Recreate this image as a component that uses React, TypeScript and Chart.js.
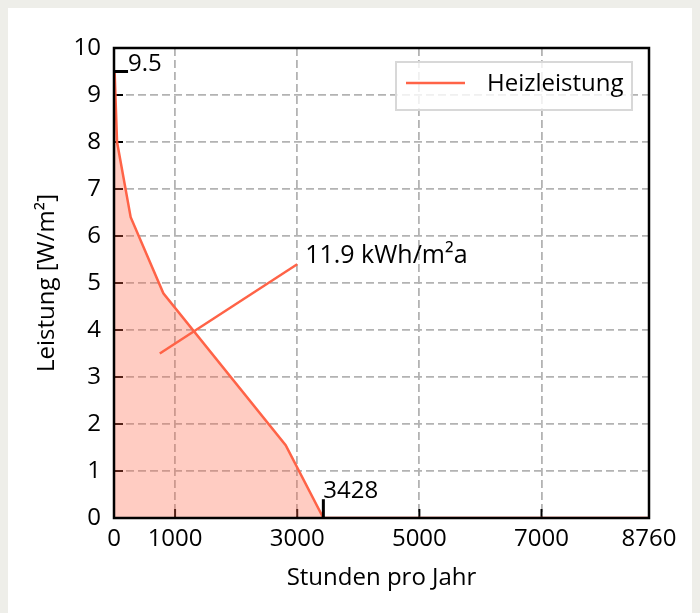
import React, { useEffect, useRef } from "react";
import { Chart, registerables } from "chart.js";

Chart.register(...registerables);

// ---- data ----
const hours = [10, 50, 273, 808, 2811, 3428, 8760];
const power = [9.5, 8.0, 6.4, 4.78, 1.55, 0, 0];
const pointerHours = [750, 3000];
const pointerPower = [3.5, 5.4];
const peakMarkHours = [0, 230];
const peakMarkPower = [9.5, 9.5];
const endMarkHours = [3428, 3428];
const endMarkPower = [0, 0.4];
const xTicks = [0, 1000, 3000, 5000, 7000, 8760];
const yTicks = [0, 1, 2, 3, 4, 5, 6, 7, 8, 9, 10];
const seriesLabel = "Heizleistung";
const labels = [
  { text: "9.5", x: 230, y: 9.66, size: 24 },
  { text: "3428", x: 3428, y: 0.57, size: 24 },
  { text: "11.9 kWh/m²a", x: 3130, y: 5.57, size: 25 },
];

const FONT = "'Open Sans', sans-serif";
const FS = 24;
const LINE = "#ff6347";

const pts = (xs: number[], ys: number[]) => xs.map((x, i) => ({ x, y: ys[i] }));

const framePlugin = {
  id: "frameTicks",
  beforeDatasetsDraw(chart: any) {
    const { ctx, chartArea: a, scales } = chart;
    ctx.save();
    ctx.strokeStyle = "#000";
    ctx.lineWidth = 2;
    ctx.beginPath();
    yTicks.forEach((v) => {
      const y = scales.y.getPixelForValue(v);
      ctx.moveTo(a.left, y);
      ctx.lineTo(a.left + 9, y);
    });
    xTicks.forEach((v) => {
      const x = scales.x.getPixelForValue(v);
      ctx.moveTo(x, a.bottom);
      ctx.lineTo(x, a.bottom - 9);
    });
    ctx.stroke();
    ctx.restore();
  },
  afterDraw(chart: any) {
    const { ctx, chartArea: a, scales } = chart;
    ctx.save();
    ctx.strokeStyle = "#000";
    ctx.lineWidth = 2.5;
    ctx.strokeRect(a.left, a.top, a.right - a.left, a.bottom - a.top);
    // annotation texts
    ctx.fillStyle = "#000";
    ctx.textAlign = "left";
    ctx.textBaseline = "middle";
    labels.forEach((l) => {
      ctx.font = `${l.size}px ${FONT}`;
      ctx.fillText(l.text, scales.x.getPixelForValue(l.x), scales.y.getPixelForValue(l.y));
    });
    // legend
    const bw = 236;
    const bh = 48;
    const bx = a.right - 17 - bw;
    const by = a.top + 14;
    ctx.fillStyle = "rgba(255,255,255,0.8)";
    ctx.fillRect(bx, by, bw, bh);
    ctx.strokeStyle = "#d8d8d8";
    ctx.lineWidth = 2;
    ctx.strokeRect(bx, by, bw, bh);
    ctx.strokeStyle = LINE;
    ctx.lineWidth = 2.5;
    ctx.beginPath();
    ctx.moveTo(bx + 10, by + 21);
    ctx.lineTo(bx + 69, by + 21);
    ctx.stroke();
    ctx.fillStyle = "#000";
    ctx.font = `${FS}px ${FONT}`;
    ctx.fillText(seriesLabel, bx + 91, by + 22);
    ctx.restore();
  },
};

export default function App() {
  const ref = useRef<HTMLCanvasElement | null>(null);
  useEffect(() => {
    document.body.style.background = "#eeeee9";
    const chart = new Chart(ref.current as HTMLCanvasElement, {
      type: "scatter",
      data: {
        datasets: [
          {
            label: seriesLabel,
            data: pts(hours, power),
            showLine: true,
            borderColor: LINE,
            borderWidth: 2.5,
            backgroundColor: "rgba(255,99,71,0.33)",
            fill: "origin",
            pointRadius: 0,
            tension: 0,
            order: 3,
          },
          {
            label: "pointer",
            data: pts(pointerHours, pointerPower),
            showLine: true,
            borderColor: LINE,
            borderWidth: 2.5,
            pointRadius: 0,
            fill: false,
            order: 2,
          },
          {
            label: "peak",
            data: pts(peakMarkHours, peakMarkPower),
            showLine: true,
            borderColor: "#000",
            borderWidth: 3,
            pointRadius: 0,
            fill: false,
            order: 1,
          },
          {
            label: "end",
            data: pts(endMarkHours, endMarkPower),
            showLine: true,
            borderColor: "#000",
            borderWidth: 3,
            pointRadius: 0,
            fill: false,
            order: 1,
          },
        ],
      },
      options: {
        animation: false,
        responsive: false,
        maintainAspectRatio: false,
        layout: { padding: { left: 0, top: 40, right: 51, bottom: 0 } },
        plugins: { legend: { display: false }, tooltip: { enabled: false } },
        scales: {
          x: {
            type: "linear",
            min: 0,
            max: 8760,
            afterBuildTicks: (s: any) => {
              s.ticks = xTicks.map((v) => ({ value: v }));
            },
            afterFit: (s: any) => {
              s.height = 95;
            },
            ticks: {
              color: "#000",
              font: { family: FONT, size: FS },
              padding: 7,
              maxRotation: 0,
              autoSkip: false,
              callback: (v: any) => String(v),
            },
            grid: { color: "#b3b3b3", lineWidth: 1.8, drawTicks: false },
            border: { display: false, dash: [8, 4] },
            title: {
              display: true,
              text: "Stunden pro Jahr",
              color: "#000",
              font: { family: FONT, size: FS },
              padding: { top: 0, bottom: 20 },
            },
          },
          y: {
            type: "linear",
            min: 0,
            max: 10,
            afterBuildTicks: (s: any) => {
              s.ticks = yTicks.map((v) => ({ value: v }));
            },
            afterFit: (s: any) => {
              s.width = 106;
            },
            ticks: {
              color: "#000",
              font: { family: FONT, size: FS },
              padding: 13,
              autoSkip: false,
            },
            grid: { color: "#b3b3b3", lineWidth: 1.8, drawTicks: false },
            border: { display: false, dash: [8, 4] },
            title: {
              display: true,
              text: "Leistung [W/m²]",
              color: "#000",
              font: { family: FONT, size: FS },
              padding: { top: 25, bottom: 0 },
            },
          },
        },
      },
      plugins: [framePlugin],
    } as any);
    return () => chart.destroy();
  }, []);
  return (
    <div style={{ width: 692, height: 605, background: "#fff" }}>
      <canvas ref={ref} width={692} height={605} style={{ display: "block" }} />
    </div>
  );
}
